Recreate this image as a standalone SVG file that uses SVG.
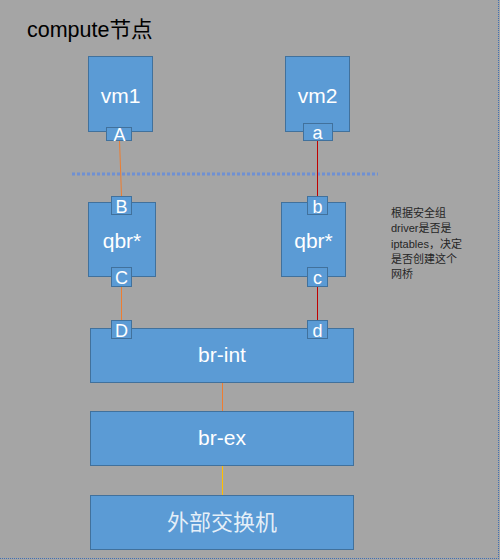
<svg xmlns="http://www.w3.org/2000/svg" width="500" height="560" viewBox="0 0 500 560">
<style>
.box{fill:#5b9bd5;stroke:#41719c;stroke-width:1}
.lbl{font-family:"Liberation Sans","Noto Sans CJK SC",sans-serif;fill:#ffffff;text-anchor:middle}
.note{font-family:"Liberation Sans","Noto Sans CJK SC",sans-serif;fill:#262626;font-size:11px}
</style>
<rect x="0" y="0" width="500" height="560" fill="#a5a5a5"/>
<line x1="498.5" y1="0" x2="498.5" y2="559" stroke="#3f6fb5" stroke-width="1" stroke-dasharray="1,1"/>
<line x1="0" y1="558.5" x2="499" y2="558.5" stroke="#3f6fb5" stroke-width="1" stroke-dasharray="1,1"/>
<text x="27" y="37" font-family="'Liberation Sans','Noto Sans CJK SC',sans-serif" font-size="21.5" fill="#000">compute节点</text>
<line x1="72" y1="174" x2="378" y2="174" stroke="#6f90d2" stroke-width="3" stroke-dasharray="3,2"/>
<g id="connectors">
<line x1="119.5" y1="140" x2="121.5" y2="196" stroke="#ed7d31" stroke-width="1"/>
<line x1="121.5" y1="286" x2="121.5" y2="320" stroke="#ed7d31" stroke-width="1"/>
<line x1="317.5" y1="140" x2="317.5" y2="196" stroke="#c00000" stroke-width="1"/>
<line x1="317.5" y1="286" x2="317.5" y2="320" stroke="#c00000" stroke-width="1"/>
<line x1="222.5" y1="382" x2="222.5" y2="411" stroke="#ed7d31" stroke-width="1"/>
<line x1="222.5" y1="465" x2="222.5" y2="495" stroke="#ffc000" stroke-width="1"/>
</g>
<g id="vm1">
<rect class="box" x="88.5" y="56.5" width="64" height="75"/>
<text class="lbl" x="120.5" y="103" font-size="21">vm1</text>
</g>
<g id="portA">
<rect class="box" x="106.5" y="127.5" width="25" height="13"/>
<text class="lbl" x="119.5" y="141" font-size="18">A</text>
</g>
<g id="vm2">
<rect class="box" x="285.5" y="56.5" width="64" height="75"/>
<text class="lbl" x="317.5" y="103" font-size="21">vm2</text>
</g>
<g id="porta">
<rect class="box" x="303.5" y="123.5" width="29" height="17"/>
<text class="lbl" x="317.5" y="139" font-size="18">a</text>
</g>
<g id="qbr1">
<rect class="box" x="88.5" y="202.5" width="67" height="74"/>
<text class="lbl" x="122" y="248" font-size="21">qbr*</text>
</g>
<g id="portB">
<rect class="box" x="111.5" y="196.5" width="20" height="18"/>
<text class="lbl" x="121.5" y="213" font-size="18">B</text>
</g>
<g id="portC">
<rect class="box" x="111.5" y="267.5" width="20" height="19"/>
<text class="lbl" x="121.5" y="284" font-size="18">C</text>
</g>
<g id="qbr2">
<rect class="box" x="281.5" y="202.5" width="64" height="74"/>
<text class="lbl" x="313.5" y="248" font-size="21">qbr*</text>
</g>
<g id="portb">
<rect class="box" x="307.5" y="196.5" width="20" height="18"/>
<text class="lbl" x="317.5" y="213" font-size="18">b</text>
</g>
<g id="portc">
<rect class="box" x="307.5" y="267.5" width="20" height="19"/>
<text class="lbl" x="317.5" y="284" font-size="18">c</text>
</g>
<g id="brint">
<rect class="box" x="90.5" y="328.5" width="263" height="54"/>
<text class="lbl" x="222" y="362" font-size="21">br-int</text>
</g>
<g id="portD">
<rect class="box" x="111.5" y="320.5" width="20" height="18"/>
<text class="lbl" x="121.5" y="337" font-size="18">D</text>
</g>
<g id="portd">
<rect class="box" x="307.5" y="320.5" width="20" height="18"/>
<text class="lbl" x="317.5" y="337" font-size="18">d</text>
</g>
<g id="brex">
<rect class="box" x="90.5" y="411.5" width="263" height="54"/>
<text class="lbl" x="222" y="445" font-size="21">br-ex</text>
</g>
<g id="ext">
<rect class="box" x="90.5" y="495.5" width="263" height="54"/>
<text class="lbl" x="222" y="530" font-size="22" fill-opacity="0.85">外部交换机</text>
</g>
<g id="note">
<text class="note" x="391" y="217">根据安全组</text>
<text class="note" x="391" y="232">driver是否是</text>
<text class="note" x="391" y="248">iptables，决定</text>
<text class="note" x="391" y="263">是否创建这个</text>
<text class="note" x="391" y="278">网桥</text>
</g>
</svg>
